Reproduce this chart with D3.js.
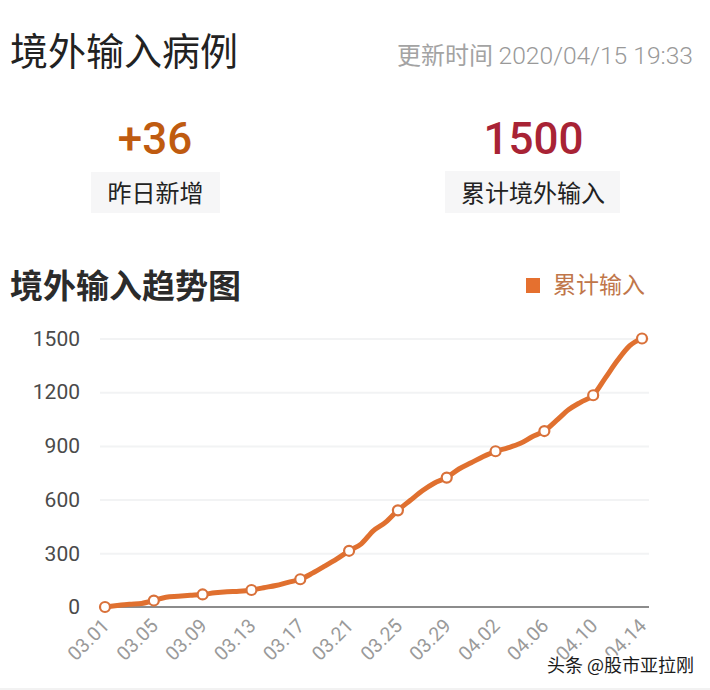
<!DOCTYPE html>
<html>
<head>
<meta charset="utf-8">
<script src="https://cdn.jsdelivr.net/npm/d3@7"></script>
<style>
html, body { margin: 0; padding: 0; background: #fff; }
svg { display: block; }
text { font-family: Roboto, "Noto Sans CJK SC", sans-serif; }
.cjk { font-family: "Noto Sans CJK SC", sans-serif; }
</style>
</head>
<body>
<div id="chart"></div>
<script>
const dates = ['03.01','03.02','03.03','03.04','03.05','03.06','03.07','03.08','03.09','03.10',
  '03.11','03.12','03.13','03.14','03.15','03.16','03.17','03.18','03.19','03.20','03.21',
  '03.22','03.23','03.24','03.25','03.26','03.27','03.28','03.29','03.30','03.31',
  '04.01','04.02','04.03','04.04','04.05','04.06','04.07','04.08','04.09','04.10',
  '04.11','04.12','04.13','04.14']
const totals = [0,8,15,20,36,55,60,65,70,79,85,88,95,108,120,138,155,189,228,269,314,
  353,427,474,540,595,649,693,723,771,806,841,870,889,913,951,983,1042,1103,1145,1183,
  1280,1378,1460,1500]
const yTicks = [0,300,600,900,1200,1500]
const xTicks = dates.filter((d, i) => i % 4 == 0)

const svg = d3.select('#chart').append('svg')
  .attr('width', 710)
  .attr('height', 690)

function label(x, y, str, size, color, anchor, weight) {
  return svg.append('text')
    .attr('class', 'cjk')
    .attr('x', x)
    .attr('y', y)
    .attr('font-size', size)
    .attr('fill', color)
    .attr('text-anchor', anchor || 'start')
    .attr('font-weight', weight || 400)
    .text(str)
}

// header
label(10, 65, '境外输入病例', 38, '#222', 'start', 400)
label(397, 64, '更新时间', 24, '#a3a3a3', 'start', 400)
svg.append('text').attr('x', 693).attr('y', 64).attr('text-anchor', 'end')
  .attr('font-size', 24.6).attr('font-weight', 300).attr('fill', '#999').text('2020/04/15 19:33')

// the two numbers
svg.append('text').attr('x', 155).attr('y', 154).attr('text-anchor', 'middle')
  .attr('font-size', 44).attr('font-weight', 500).attr('fill', '#bf5b10').text('+36')
svg.append('text').attr('x', 533.5).attr('y', 154).attr('text-anchor', 'middle')
  .attr('font-size', 44).attr('font-weight', 500).attr('fill', '#a82335').text('1500')

svg.append('rect').attr('x', 91).attr('y', 172).attr('width', 129).attr('height', 41).attr('fill', '#f6f6f7')
svg.append('rect').attr('x', 445).attr('y', 171).attr('width', 175).attr('height', 42).attr('fill', '#f6f6f7')
label(155.5, 202, '昨日新增', 24, '#222', 'middle', 400)
label(533, 202, '累计境外输入', 24, '#222', 'middle', 400)

// trend section
label(10, 298, '境外输入趋势图', 33, '#2b2b2b', 'start', 700)
svg.append('rect').attr('x', 526).attr('y', 278).attr('width', 14).attr('height', 15).attr('fill', '#e5702f')
label(553, 293, '累计输入', 23, '#c0764a', 'start', 400)

const x = d3.scalePoint().domain(dates).range([105, 642])
const y = d3.scaleLinear().domain([0, 1500]).range([607, 338.5])

// grid + y labels
const yAxis = svg.append('g')
  .attr('transform', 'translate(92,0)')
  .call(d3.axisLeft(y).tickValues(yTicks).tickFormat(d3.format('d')).tickSize(0).tickPadding(12))
yAxis.select('.domain').remove()
yAxis.selectAll('text').attr('font-size', 21).attr('fill', '#4a4a4a').style('font-family', 'Roboto')
yAxis.selectAll('.tick').filter(d => d > 0).append('line')
  .attr('x1', 8)
  .attr('x2', 557)
  .attr('stroke', '#f2f3f4')
  .attr('stroke-width', 2)

// x axis
const xAxis = svg.append('g')
  .attr('transform', 'translate(0,607)')
  .call(d3.axisBottom(x).tickValues(xTicks).tickSize(0).tickPadding(0))
xAxis.select('.domain').remove()
svg.append('line')
  .attr('x1', 105).attr('x2', 649)
  .attr('y1', 607).attr('y2', 607)
  .attr('stroke', '#8c8c8c').attr('stroke-width', 2)
xAxis.selectAll('text')
  .attr('font-size', 19.5)
  .attr('fill', '#9a9a9a')
  .attr('font-weight', 400)
  .attr('text-anchor', 'end')
  .attr('dy', 0)
  .attr('transform', 'translate(5,20) rotate(-45)')

// line
const lineFunc = d3.line()
  .x((d, i) => x(dates[i]))
  .y(d => y(d))
  .curve(d3.curveMonotoneX)

svg.append('path')
  .attr('d', lineFunc(totals))
  .attr('fill', 'none')
  .attr('stroke', '#e0702f')
  .attr('stroke-width', 5)
  .attr('stroke-linejoin', 'round')

svg.selectAll('circle.pt')
  .data(xTicks)
  .enter().append('circle')
  .attr('class', 'pt')
  .attr('cx', d => x(d))
  .attr('cy', d => y(totals[dates.indexOf(d)]))
  .attr('r', 5)
  .attr('fill', '#fff')
  .attr('stroke', '#d9713a')
  .attr('stroke-width', 2.2)

// watermark + bottom edge
svg.append('line').attr('x1', 0).attr('x2', 710).attr('y1', 689).attr('y2', 689)
  .attr('stroke', '#eeeeee').attr('stroke-width', 1.5)
label(547, 672, '头条 @股市亚拉刚', 18, '#1a1a1a', 'start', 400)
  .attr('stroke', '#fff').attr('stroke-width', 3).attr('paint-order', 'stroke')
</script>
</body>
</html>
